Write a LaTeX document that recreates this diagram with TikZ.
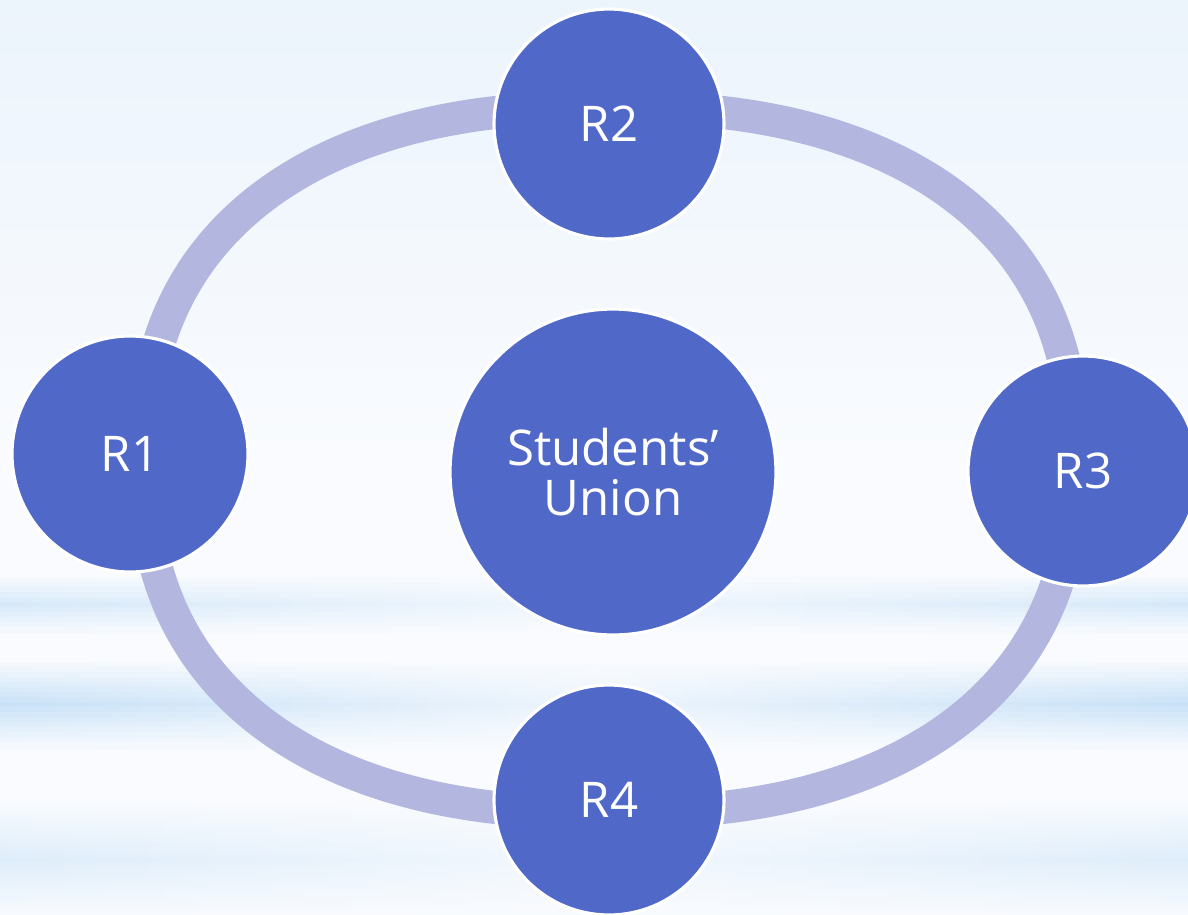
\documentclass[tikz,border=0pt]{standalone}
\usepackage{fontspec}
\setmainfont{Open Sans}
\usetikzlibrary{calc}
\definecolor{ballblue}{RGB}{80,104,200}
\definecolor{ringblue}{RGB}{179,183,223}
\definecolor{skytop}{RGB}{236,244,252}
\definecolor{skymid}{RGB}{249,251,254}
\definecolor{skyband}{RGB}{200,225,247}
\tikzset{
  member/.style={circle, fill=ballblue, draw=white, line width=1.8pt,
    text=white, inner sep=0pt, minimum size=4.6cm,
    font=\fontsize{28}{34}\selectfont},
  hub/.style={member, minimum size=6.52cm, align=center},
  ring/.style={ringblue, line width=0.66cm}
}
\begin{document}
\begin{tikzpicture}[x=0.02cm,y=-0.02cm]
\useasboundingbox (0,0) rectangle (1188,914);
\fill [top color=skytop, bottom color=skymid, middle color=skymid] (0,0) rectangle (1188,914);
% light bands across the lower half
\foreach \c/\h/\p in {605/30/70, 705/45/100, 860/60/55}{
  \foreach \s in {-60,-55,...,60}{
    \pgfmathtruncatemacro\k{max(0,\p*(1-abs(\s)/\h))}
    \pgfmathtruncatemacro\m{\k/4}
    \ifnum\k>0
      \fill [left color=skyband!\k!skymid, right color=skyband!\k!skymid,
        middle color=skyband!\m!skymid] (0,\c+\s-3) rectangle (1188,\c+\s+3);
    \fi
  }
}
% the cycle behind the members
\coordinate (mid) at (609,460);
\draw [ring, shift={(mid)}] plot [domain=0.5:360.5, samples=181, smooth]
  ({465*sign(cos(\x))*abs(cos(\x))^0.85},{353*sign(sin(\x))*abs(sin(\x))^0.85}) -- cycle;
\node [hub] (union) at (613,472) {Students’\\[-6pt]Union};
\node [member, minimum size=4.72cm] (r1) at (130,454) {R1};
\node [member] (r2) at (609,124) {R2};
\node [member] (r3) at (1083,471) {R3};
\node [member] (r4) at (609,800) {R4};
\end{tikzpicture}
\end{document}
